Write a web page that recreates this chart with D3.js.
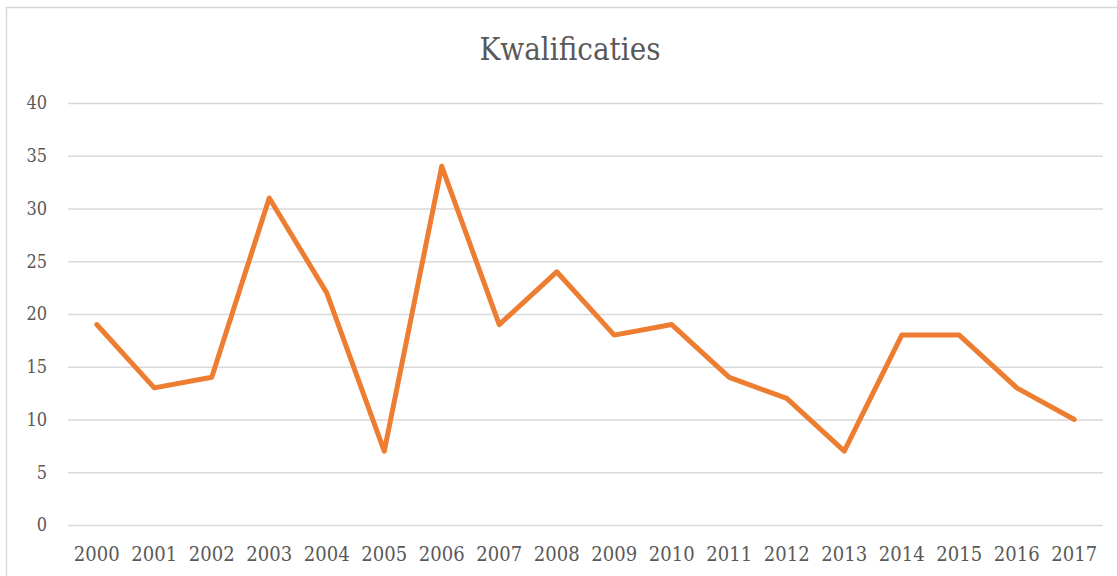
<!DOCTYPE html>
<html>
<head>
<meta charset="utf-8">
<script src="https://cdn.jsdelivr.net/npm/d3@7"></script>
<style>
  body { margin: 0; background: #fff; }
  svg { display: block; }
</style>
</head>
<body>
<svg width="1117" height="576"></svg>
<script>
//Chart data
const years = ["2000","2001","2002","2003","2004","2005","2006","2007","2008",
               "2009","2010","2011","2012","2013","2014","2015","2016","2017"];
const values = [19, 13, 14, 31, 22, 7, 34, 19, 24, 18, 19, 14, 12, 7, 18, 18, 13, 10];
const yTicks = [0, 5, 10, 15, 20, 25, 30, 35, 40];
const title = "Kwalificaties";

//Serif face that is actually available in the sandbox
const serif = "DejaVu Serif Condensed, DejaVu Serif";

let svg = d3.select("svg"),
    margin = {top: 103, right: 14, bottom: 51, left: 68},
    width = +svg.attr("width") - margin.left - margin.right,
    height = +svg.attr("height") - margin.top - margin.bottom;

//Outer chart border (runs off the right and bottom edges)
svg.append("rect")
   .attr("x", 6.5).attr("y", 7.5)
   .attr("width", 1130).attr("height", 600)
   .attr("fill", "none")
   .attr("stroke", "#d9d9d9")
   .attr("stroke-width", 1.5);

let x = d3.scaleBand().domain(years).range([0, width]),
    y = d3.scaleLinear().domain([0, 40]).range([height, 0]);

let g = svg.append("g")
    .attr("transform", "translate(" + margin.left + "," + margin.top + ")");

//Horizontal gridlines with y labels
let yAxis = d3.axisLeft(y).tickValues(yTicks).tickSize(-width).tickPadding(21);
g.append("g")
 .attr("class", "axis axis--y")
 .call(yAxis)
 .attr("font-family", serif)
 .call(a => a.select(".domain").remove())
 .call(a => a.selectAll("line").attr("stroke", "#d9d9d9").attr("stroke-width", 1.5))
 .call(a => a.selectAll("text")
   .attr("font-size", 18)
   .attr("fill", "#595959"));

//Year labels under the plot
let xAxis = d3.axisBottom(x).tickSize(0).tickPadding(22);
g.append("g")
 .attr("class", "axis axis--x")
 .attr("transform", "translate(0," + height + ")")
 .call(xAxis)
 .attr("font-family", serif)
 .call(a => a.select(".domain").remove())
 .call(a => a.selectAll("text")
   .attr("font-size", 20)
   .attr("fill", "#595959"));

//The orange series line
let line = d3.line()
    .x((d, i) => x(years[i]) + x.bandwidth() / 2)
    .y(d => y(d));

g.append("path")
 .datum(values)
 .attr("d", line)
 .attr("fill", "none")
 .attr("stroke", "#ED7D31")
 .attr("stroke-width", 5)
 .attr("stroke-linejoin", "round")
 .attr("stroke-linecap", "round");

svg.append("text")
   .attr("x", 570).attr("y", 60)
   .attr("text-anchor", "middle")
   .attr("font-family", serif)
   .attr("font-size", 31)
   .attr("fill", "#595959")
   .text(title);
</script>
</body>
</html>
